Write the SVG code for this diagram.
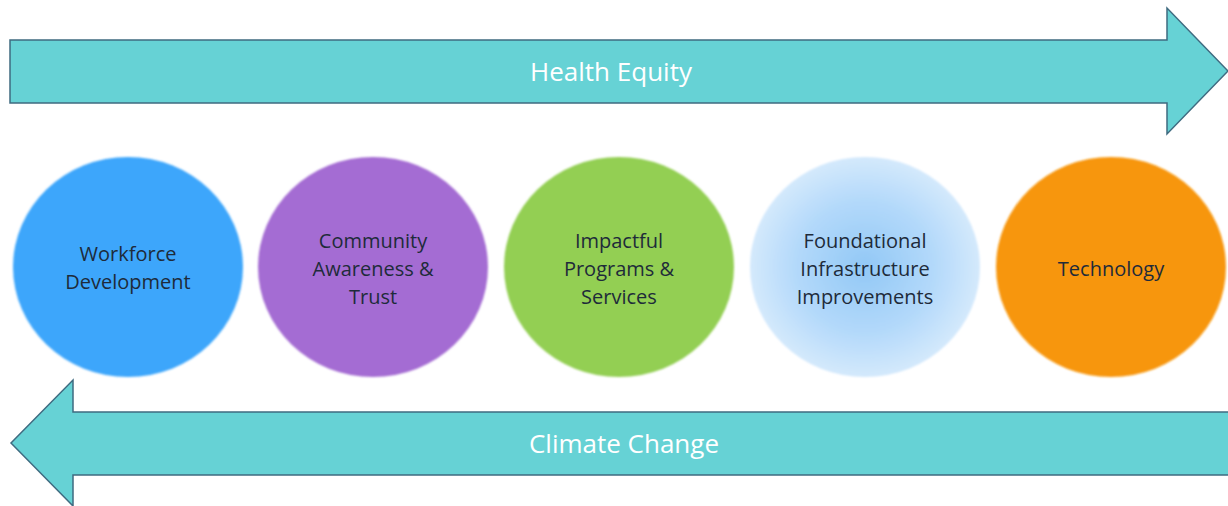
<svg xmlns="http://www.w3.org/2000/svg" width="1228" height="506" viewBox="0 0 1228 506">
  <defs>
    <filter id="soft" x="-10%" y="-10%" width="120%" height="120%">
      <feGaussianBlur stdDeviation="1.2"/>
    </filter>
    <radialGradient id="paleBlue" cx="50%" cy="50%" r="50%">
      <stop offset="0" stop-color="#92c8f6"/>
      <stop offset="0.6" stop-color="#b3d9fa"/>
      <stop offset="1" stop-color="#d4e9fc"/>
    </radialGradient>
    <style>
      .band { fill: #66d2d5; stroke: #3f6b80; stroke-width: 1.5; }
      .band-label { font-family: "Open Sans", "Liberation Sans", sans-serif; font-size: 26px; fill: #ffffff; text-anchor: middle; dominant-baseline: central; }
      .node-label { font-family: "Open Sans", "Liberation Sans", sans-serif; font-size: 20px; fill: #1e2b3a; text-anchor: middle; dominant-baseline: central; }
    </style>
  </defs>

  <rect width="1228" height="506" fill="#ffffff"/>

  <!-- directional bands -->
  <g id="connectors">
    <g id="health-equity">
      <path class="band" d="M10,40 H1167 V8 L1228,71 L1167,134 V103 H10 Z"/>
      <text class="band-label" x="611" y="71">Health Equity</text>
    </g>
    <g id="climate-change">
      <path class="band" d="M1230,412 H73 V380 L11,443 L73,506 V475 H1230 Z"/>
      <text class="band-label" x="624" y="443">Climate Change</text>
    </g>
  </g>

  <!-- focus areas -->
  <g id="workforce">
    <ellipse cx="128" cy="267" rx="115" ry="110" fill="#3ca6fb" filter="url(#soft)"/>
    <text class="node-label" x="128" y="253">Workforce</text>
    <text class="node-label" x="128" y="281">Development</text>
  </g>
  <g id="community">
    <ellipse cx="373" cy="267" rx="115" ry="110" fill="#a46cd3" filter="url(#soft)"/>
    <text class="node-label" x="373" y="240">Community</text>
    <text class="node-label" x="373" y="268">Awareness &amp;</text>
    <text class="node-label" x="373" y="296">Trust</text>
  </g>
  <g id="programs">
    <ellipse cx="619" cy="267" rx="115" ry="110" fill="#93cf52" filter="url(#soft)"/>
    <text class="node-label" x="619" y="240">Impactful</text>
    <text class="node-label" x="619" y="268">Programs &amp;</text>
    <text class="node-label" x="619" y="296">Services</text>
  </g>
  <g id="infrastructure">
    <ellipse cx="865" cy="267" rx="115" ry="110" fill="url(#paleBlue)" filter="url(#soft)"/>
    <text class="node-label" x="865" y="240">Foundational</text>
    <text class="node-label" x="865" y="268">Infrastructure</text>
    <text class="node-label" x="865" y="296">Improvements</text>
  </g>
  <g id="technology">
    <ellipse cx="1111" cy="267" rx="115" ry="110" fill="#f7960a" filter="url(#soft)"/>
    <text class="node-label" x="1111" y="268">Technology</text>
  </g>
</svg>
